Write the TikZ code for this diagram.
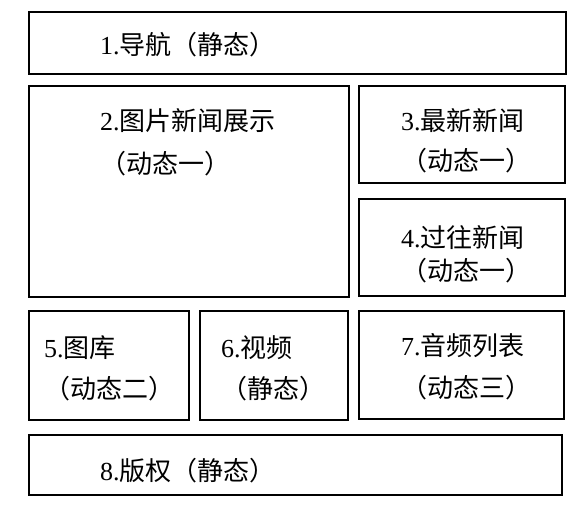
\documentclass[tikz,border=0pt]{standalone}
\usepackage{fontspec}
\setmainfont{Liberation Serif}
\newfontfamily\cjk{Noto Sans CJK SC}
\usetikzlibrary{positioning}
\newcommand{\lat}[1]{{\rmfamily #1}}

\begin{document}
\begin{tikzpicture}[x=1pt, y=-1pt,
    blk/.style={rectangle, draw, line width=2.2pt, inner sep=0pt,
                anchor=north west},
    lbl/.style={anchor=base west, align=left, inner sep=0pt,
                font=\fontsize{26}{41}\selectfont\cjk}
  ]
    \useasboundingbox (0,0) rectangle (581,506);

    % Blocks of the page
    \node[blk, minimum width=537pt, minimum height=62pt]  (nav)       at (28,11)  {};
    \node[blk, minimum width=320pt, minimum height=211pt] (slides)    at (28,85)  {};
    \node[blk, minimum width=206pt, minimum height=97pt]  (latest)    at (358,85) {};
    \node[blk, minimum width=206pt, minimum height=97pt]  (past)      at (358,198) {};
    \node[blk, minimum width=160pt, minimum height=109pt] (gallery)   at (28,310) {};
    \node[blk, minimum width=148pt, minimum height=109pt] (video)     at (199,310) {};
    \node[blk, minimum width=205pt, minimum height=108pt] (audio)     at (358,310) {};
    \node[blk, minimum width=533pt, minimum height=60pt]  (copyright) at (28,434) {};

    % Labels (placed at the baseline of their last line)
    \node[lbl] (nav-t)       at (100,54)  {\lat{1.}导航（静态）};
    \node[lbl] (slides-t)    at (100,173) {\lat{2.}图片新闻展示\\[2pt]（动态一）};
    \node[lbl] (latest-t)    at (401,170) {\lat{3.}最新新闻\\[-1pt]（动态一）};
    \node[lbl] (past-t)      at (401,280) {\lat{4.}过往新闻\\[-8pt]（动态一）};
    \node[lbl] (gallery-t)   at (44,398)  {\lat{5.}图库\\（动态二）};
    \node[lbl] (video-t)     at (221,398) {\lat{6.}视频\\（静态）};
    \node[lbl] (audio-t)     at (401,397) {\lat{7.}音频列表\\[1pt]（动态三）};
    \node[lbl] (copyright-t) at (100,480) {\lat{8.}版权（静态）};
  \end{tikzpicture}
\end{document}
